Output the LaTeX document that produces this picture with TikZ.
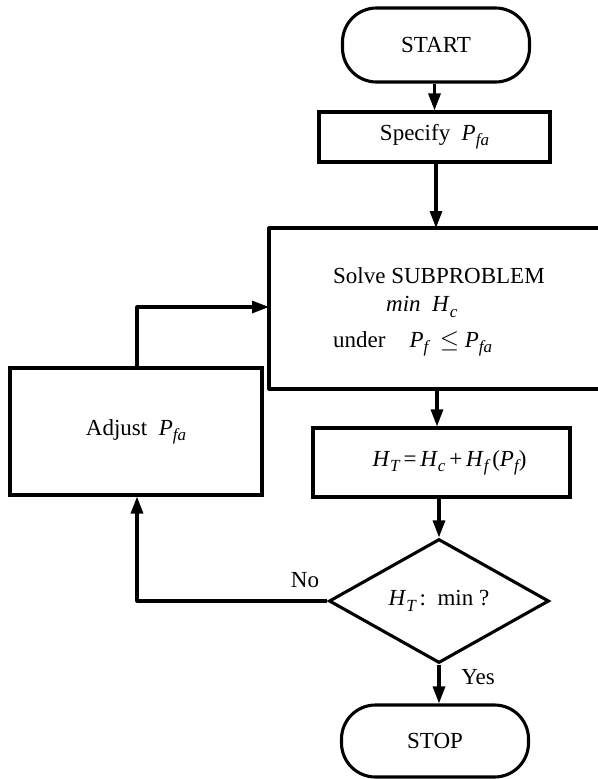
\documentclass[tikz,border=0pt]{standalone}
\usepackage{fontspec}
\setmainfont{Liberation Serif}
\usetikzlibrary{shapes.geometric,arrows.meta}
\newcommand\mysub[1]{\raisebox{-0.5ex}{\fontsize{17}{17}\selectfont\itshape #1}}
\begin{document}
\begin{tikzpicture}[x=1pt,y=-1pt,
  every node/.style={font=\fontsize{23}{27}\selectfont},
  line/.style={line width=3.1pt},
  arr/.style={line width=3.1pt,-{Triangle[length=17pt,width=12pt]}},
  boxs/.style={draw,line width=3.1pt,rectangle,inner sep=0pt},
  term/.style={draw,line width=3.1pt,rectangle,rounded corners=34pt,inner sep=0pt},
  lbl/.style={inner sep=0pt}]
\useasboundingbox (0,0) rectangle (597,779);
% nodes
\node[term,minimum width=187pt,minimum height=74pt] (start) at (436,45) {START};
\node[boxs,minimum width=231pt,minimum height=50pt] (spec) at (434.5,137) {Specify\ \ \textit{P}\mysub{fa}};
% big open box (extends past the right edge)
\coordinate (btl) at (269,228);
\coordinate (bbl) at (269,389);
\coordinate (btr) at (600,228);
\coordinate (bbr) at (600,389);
\draw[line,line join=round] (btr) -- (btl) -- (bbl) -- (bbr);
\coordinate (btop) at (436,228);
\coordinate (bbot) at (437,389);
\coordinate (bleft) at (269,307);
\node[lbl,anchor=west] (t1) at (333,276) {Solve SUBPROBLEM};
\node[lbl,anchor=west] (t2) at (386,307) {\textit{min}\ \ \textit{H}\mysub{c}};
\node[lbl,anchor=west] (t3) at (333,344) {under\hspace{24pt}\textit{P}\mysub{f}\ \ $\leq$\ \textit{P}\mysub{fa}};
\node[boxs,minimum width=257pt,minimum height=69pt] (ht) at (441.5,462.5)
  {\hspace{16pt}\textit{H}\mysub{T}\,=\,\textit{H}\mysub{c}\,+\,\textit{H}\mysub{f}\,(\textit{P}\mysub{f})};
\node[draw,line width=3.1pt,diamond,aspect=1.77,minimum width=220pt,minimum height=124pt,inner sep=0pt] (dec) at (439,601)
  {\textit{H}\mysub{T}\,:\ \ min ?};
\node[term,minimum width=187pt,minimum height=72pt] (stop) at (435,741) {STOP};
\node[boxs,minimum width=252pt,minimum height=127pt] (adj) at (136,431.5) {Adjust\ \ \textit{P}\mysub{fa}};
% labels
\node[lbl] (no) at (305,580) {No};
\node[lbl] (yes) at (478,677) {Yes};
% connectors
\draw[arr] (start.south -| spec.north) -- (spec.north);
\draw[arr] (spec.south -| btop) -- (btop);
\draw[arr] (bbot) -- (bbot |- ht.north);
\draw[arr] (ht.south -| dec.north) -- (dec.north);
\draw[arr] (dec.south) -- (dec.south |- stop.north);
\coordinate (c1) at (137,601);
\coordinate (c2) at (137,307);
\draw[arr,line join=round] (dec.west) -- (c1) -- (c1 |- adj.south);
\draw[arr,line join=round] (c2 |- adj.north) -- (c2) -- (bleft);
\end{tikzpicture}
\end{document}
